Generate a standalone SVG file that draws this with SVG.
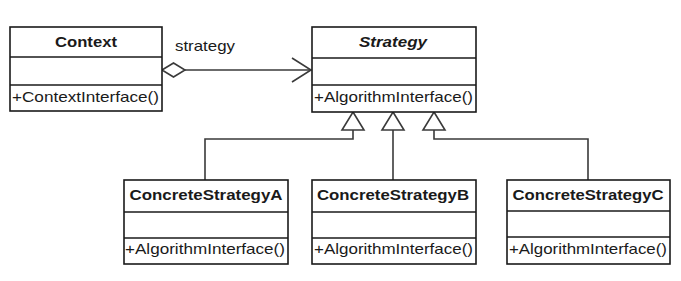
<svg xmlns="http://www.w3.org/2000/svg" width="681" height="281" viewBox="0 0 681 281">
<style>
.box{fill:#fff;stroke:#1a1a1a;stroke-width:1.6}
.div{stroke:#1a1a1a;stroke-width:1.4}
.t{font-family:"Liberation Sans",Arial,sans-serif;font-size:14.5px;font-weight:bold;fill:#1a1a1a;text-anchor:middle}
.m{font-family:"Liberation Sans",Arial,sans-serif;font-size:15px;fill:#1a1a1a}
.c{fill:none;stroke:#3a3a3a;stroke-width:1.6}
.tri{fill:#fff;stroke:#3a3a3a;stroke-width:1.6}
</style>
<rect width="681" height="281" fill="#fff"/>
<g id="connectors">
<polygon class="tri" points="162,70 173.5,63 185,70 173.5,77"/>
<line class="c" x1="185" y1="70" x2="311" y2="70"/>
<polyline class="c" points="292,58 311,70 292,82"/>
<polyline class="c" points="205,180 205,139 353,139 353,130"/>
<line class="c" x1="393" y1="180" x2="393" y2="130"/>
<polyline class="c" points="588,180 588,139 434,139 434,130"/>
<polygon class="tri" points="353,112 364,130 342,130"/>
<polygon class="tri" points="393,112 404,130 382,130"/>
<polygon class="tri" points="434,112 445,130 423,130"/>
<text class="m" x="175" y="51" textLength="60" lengthAdjust="spacingAndGlyphs">strategy</text>
</g>
<g id="Context">
<rect class="box" x="10" y="27" width="152" height="84"/>
<line class="div" x1="10" y1="57" x2="162" y2="57"/>
<line class="div" x1="10" y1="85" x2="162" y2="85"/>
<text class="t" x="86" y="47" textLength="62" lengthAdjust="spacingAndGlyphs">Context</text>
<text class="m" x="12" y="102" textLength="147" lengthAdjust="spacingAndGlyphs">+ContextInterface()</text>
</g>
<g id="Strategy">
<rect class="box" x="312" y="27" width="164" height="85"/>
<line class="div" x1="312" y1="58" x2="476" y2="58"/>
<line class="div" x1="312" y1="85" x2="476" y2="85"/>
<text class="t" x="393" y="47" font-style="italic" textLength="68" lengthAdjust="spacingAndGlyphs">Strategy</text>
<text class="m" x="314" y="102" textLength="159" lengthAdjust="spacingAndGlyphs">+AlgorithmInterface()</text>
</g>
<g id="ConcreteStrategyA">
<rect class="box" x="124" y="180" width="164" height="84"/>
<line class="div" x1="124" y1="212" x2="288" y2="212"/>
<line class="div" x1="124" y1="238" x2="288" y2="238"/>
<text class="t" x="206" y="200" textLength="153" lengthAdjust="spacingAndGlyphs">ConcreteStrategyA</text>
<text class="m" x="125" y="254" textLength="160" lengthAdjust="spacingAndGlyphs">+AlgorithmInterface()</text>
</g>
<g id="ConcreteStrategyB">
<rect class="box" x="312" y="180" width="164" height="84"/>
<line class="div" x1="312" y1="212" x2="476" y2="212"/>
<line class="div" x1="312" y1="238" x2="476" y2="238"/>
<text class="t" x="393" y="200" textLength="152" lengthAdjust="spacingAndGlyphs">ConcreteStrategyB</text>
<text class="m" x="314" y="254" textLength="159" lengthAdjust="spacingAndGlyphs">+AlgorithmInterface()</text>
</g>
<g id="ConcreteStrategyC">
<rect class="box" x="507" y="180" width="163" height="84"/>
<line class="div" x1="507" y1="211" x2="670" y2="211"/>
<line class="div" x1="507" y1="237" x2="670" y2="237"/>
<text class="t" x="588" y="200" textLength="151" lengthAdjust="spacingAndGlyphs">ConcreteStrategyC</text>
<text class="m" x="509" y="254" textLength="158" lengthAdjust="spacingAndGlyphs">+AlgorithmInterface()</text>
</g>
</svg>
